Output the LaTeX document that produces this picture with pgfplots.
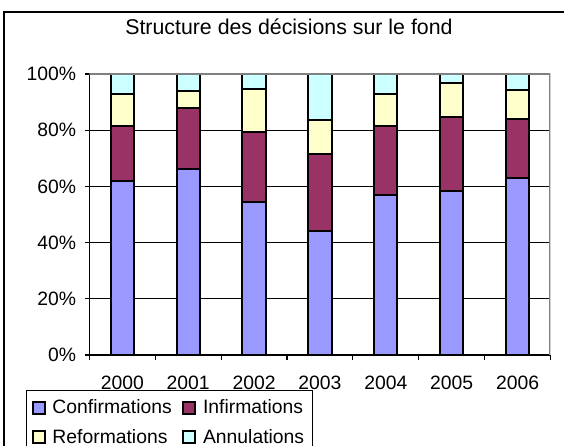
\documentclass[border=0pt]{standalone}
\usepackage{pgfplots}
\pgfplotsset{compat=1.18}
\usepackage{fontspec}
\setmainfont{Liberation Sans}
\definecolor{conf}{HTML}{9999FF}
\definecolor{infi}{HTML}{993366}
\definecolor{refo}{HTML}{FFFFCC}
\definecolor{annu}{HTML}{CCFFFF}
\definecolor{plotborder}{HTML}{808080}
\newcommand{\lbl}{\fontsize{14.5pt}{17pt}\selectfont}

\begin{document}
\begin{tikzpicture}
% 1px = 0.75pt ; picture 564x446 px
\useasboundingbox (0,0) rectangle (423pt,334.5pt);
\clip (0,0) rectangle (423pt,334.5pt);
\fill[white] (0,0) rectangle (423pt,334.5pt);
% chart area border (left and top visible)
\draw[black,line width=1pt] (3pt,-5pt) -- (3pt,325.5pt) -- (430pt,325.5pt);
\node[anchor=base,font=\fontsize{16pt}{19pt}\selectfont] at (216.7pt,308.25pt)
  {Structure des décisions sur le fond};
\begin{axis}[
  at={(67.1pt,68.25pt)}, anchor=south west,
  scale only axis, width=345.75pt, height=210.75pt,
  ybar stacked, bar width=17.5pt,
  xmin=-0.5, xmax=6.5, ymin=0, ymax=100,
  axis lines=left, axis line style={-,black,line width=0.9pt},
  xtick={0,...,6},
  xticklabels={2000,2001,2002,2003,2004,2005,2006},
  major x tick style={draw=none},
  minor xtick={-0.5,0.5,...,6.5},
  minor tick length=4pt,
  ytick={0,20,...,100},
  yticklabels={0\%,20\%,40\%,60\%,80\%,100\%},
  tick align=outside, major tick length=3.4pt,
  tick style={black,line width=0.9pt},
  ymajorgrids, grid style={black,line width=0.75pt},
  ticklabel style={font=\lbl},
  xticklabel style={anchor=north,inner sep=0pt,yshift=-12.5pt},
  yticklabel style={anchor=east,inner sep=0pt,xshift=-6.5pt},
  every axis plot/.append style={draw=black,line width=1.5pt},
  legend columns=2,
  legend cell align=left,
  legend image code/.code={\draw[#1,line width=1.5pt] (0pt,-4.5pt) rectangle (9pt,4.5pt);},
  legend style={at={(-0.1377,-0.1246)}, anchor=north west,
    draw=black, line width=0.75pt, font=\lbl,
    inner xsep=4pt, inner ysep=5pt, row sep=6pt,
    /tikz/every odd column/.append style={column sep=3pt},
    /tikz/every even column/.append style={column sep=6pt}},
]
\draw[plotborder,line width=1.5pt] (rel axis cs:0,1) -- (rel axis cs:1,1) -- (rel axis cs:1,0);
\addplot[fill=conf] coordinates {(0,61.8)(1,66.2)(2,54.3)(3,44.2)(4,57.0)(5,58.2)(6,63.0)};
\addlegendentry{Confirmations}
\addplot[fill=infi] coordinates {(0,19.8)(1,21.8)(2,25.1)(3,27.3)(4,24.4)(5,26.4)(6,21.1)};
\addlegendentry{Infirmations\hspace{14pt}}
\addplot[fill=refo] coordinates {(0,11.4)(1,5.8)(2,15.4)(3,12.2)(4,11.5)(5,12.1)(6,10.3)};
\addlegendentry{Reformations}
\addplot[fill=annu] coordinates {(0,7.0)(1,6.2)(2,5.2)(3,16.3)(4,7.1)(5,3.3)(6,5.6)};
\addlegendentry{Annulations}
\end{axis}
\end{tikzpicture}
\end{document}
